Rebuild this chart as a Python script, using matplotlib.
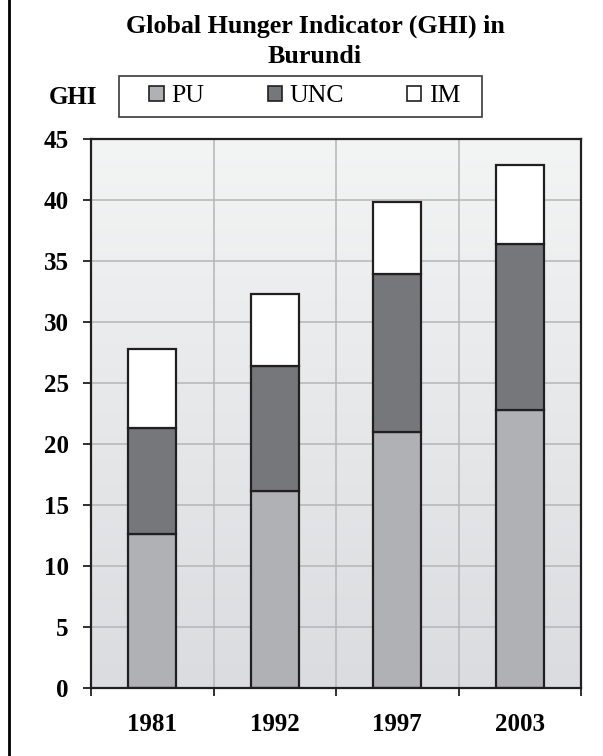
import matplotlib
matplotlib.use('Agg')
import matplotlib.pyplot as plt
import numpy as np
from matplotlib.patches import Patch, Rectangle
from matplotlib.colors import LinearSegmentedColormap

plt.rcParams['font.family'] = ['Liberation Serif', 'DejaVu Serif']

years = ['1981', '1992', '1997', '2003']
pu = [12.6, 16.1, 21.0, 22.8]
unc = [8.7, 10.3, 12.9, 13.6]
im = [6.5, 5.9, 5.9, 6.4]
yticks = [0, 5, 10, 15, 20, 25, 30, 35, 40, 45]
series = ['PU', 'UNC', 'IM']

c_pu = '#b0b1b5'
c_unc = '#76777b'
c_im = '#ffffff'
edge = '#231f20'

W, H = 603, 756
fig = plt.figure(figsize=(W/100, H/100), dpi=100)
ax = fig.add_axes([91/W, 1-688/H, 490/W, 549.5/H])

x = np.arange(len(years))
pu = np.array(pu)
unc = np.array(unc)
im = np.array(im)

# background gradient (dark at bottom, light at top)
cmap = LinearSegmentedColormap.from_list('bg', ['#dbdcdf', '#f3f4f4'])
grad = np.linspace(0, 1, 256).reshape(-1, 1)
ax.imshow(grad, cmap=cmap, aspect='auto', origin='lower',
          extent=(-0.5, 3.5, 0, 45), zorder=0)

w = 0.39
ax.bar(x, pu, w, color=c_pu, edgecolor=edge, linewidth=1.6, zorder=3)
ax.bar(x, unc, w, bottom=pu, color=c_unc, edgecolor=edge, linewidth=1.6, zorder=3)
ax.bar(x, im, w, bottom=pu+unc, color=c_im, edgecolor=edge, linewidth=1.6, zorder=3)

ax.set_xlim(-0.5, 3.5)
ax.set_ylim(0, 45)

ax.set_yticks(yticks)
ax.set_yticklabels([str(t) for t in yticks], fontsize=18, fontweight='bold')
ax.set_xticks(np.arange(-0.5, 4, 1.0))
ax.set_xticklabels([])
ax.set_xticks(x, minor=True)
ax.set_xticklabels(years, minor=True, fontsize=18, fontweight='bold')

ax.tick_params(axis='y', direction='out', length=6, width=1.3, color=edge, pad=10)
ax.tick_params(axis='x', which='major', direction='out', length=5.5, width=1.3, color=edge)
ax.tick_params(axis='x', which='minor', length=0, pad=18)

ax.set_axisbelow(True)
ax.grid(True, which='major', color='#b4b5b7', linewidth=1.1, zorder=1)

for s in ax.spines.values():
    s.set_color(edge)
    s.set_linewidth(1.6)
    s.set_zorder(4)

# title (two lines) and y label
fig.text(315/W, 1-33/H, 'Global Hunger Indicator (GHI) in',
         ha='center', va='baseline', fontsize=18.7, fontweight='bold')
fig.text(315/W, 1-63/H, 'Burundi',
         ha='center', va='baseline', fontsize=18.7, fontweight='bold')
fig.text(49/W, 1-97/H, 'GHI', ha='left', va='center', fontsize=18, fontweight='bold')

# legend: frame drawn separately, entries centred inside
fig.add_artist(Rectangle((119/W, 1-117/H), 363/W, 41/H, transform=fig.transFigure,
                         facecolor='white', edgecolor='#3a3a3a', linewidth=1.2, zorder=5))
handles = [Patch(facecolor=c, edgecolor=edge, linewidth=1.2, label=lab)
           for c, lab in zip([c_pu, c_unc, c_im], series)]
leg = fig.legend(handles=handles, ncol=3, loc='center',
                 bbox_to_anchor=(305/W, 1-96.5/H),
                 fontsize=18.5, frameon=False,
                 handlelength=0.56, handleheight=0.56, handletextpad=0.3,
                 columnspacing=2.45, borderaxespad=0, borderpad=0)
leg.set_zorder(6)

# left frame line of the original picture
fig.add_artist(plt.Line2D([8.5/W, 8.5/W], [0, 1], color='black', linewidth=2))

plt.savefig('out.png', dpi=100)
